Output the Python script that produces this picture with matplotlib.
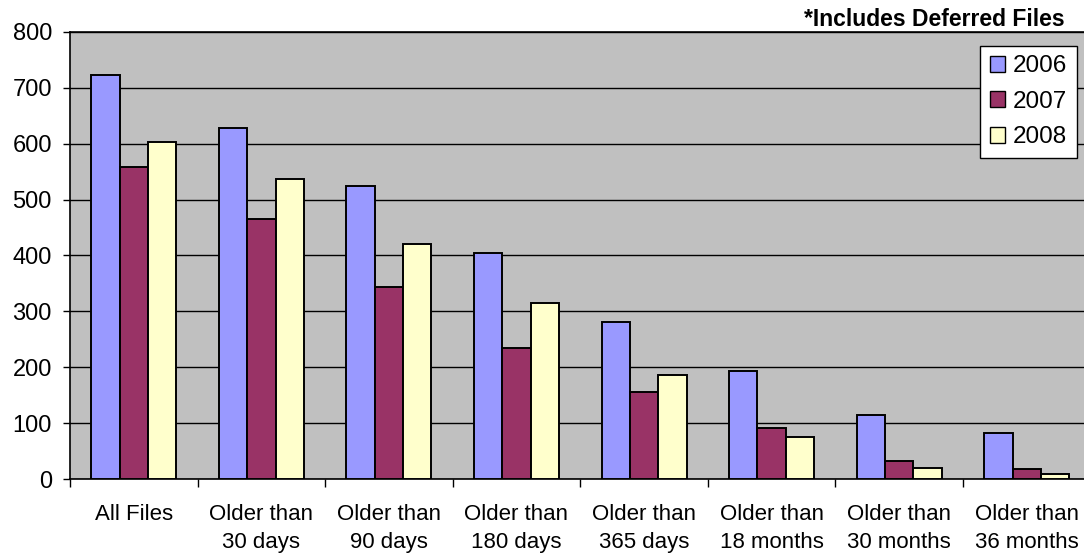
import numpy as np
import matplotlib
matplotlib.use('Agg')
import matplotlib.pyplot as plt
from matplotlib.patches import Patch

# Data
categories = ['All Files', 'Older than\n30 days', 'Older than\n90 days', 'Older than\n180 days',
              'Older than\n365 days', 'Older than\n18 months', 'Older than\n30 months', 'Older than\n36 months']
values_2006 = [723, 627, 525, 404, 282, 194, 115, 82]
values_2007 = [559, 465, 344, 235, 156, 92, 33, 18]
values_2008 = [602, 536, 421, 315, 186, 76, 21, 10]
series_labels = ['2006', '2007', '2008']
series_colors = ['#9999FF', '#993366', '#FFFFCC']

plt.rcParams['font.family'] = ['Liberation Sans', 'DejaVu Sans']

W, H = 1084, 554
fig = plt.figure(figsize=(W / 100, H / 100), dpi=100)
fig.patch.set_facecolor('white')

# axes box in pixel terms, right edge runs past the image like the original
left, right, top, bottom = 70, 1090.5, 31.7, 479.3
ax = fig.add_axes([left / W, (H - bottom) / H, (right - left) / W, (bottom - top) / H])
ax.set_facecolor('#C0C0C0')

x = np.arange(len(categories))
bar_w = 0.222
for i, vals in enumerate([values_2006, values_2007, values_2008]):
    ax.bar(x + (i - 1) * bar_w, vals, width=bar_w, color=series_colors[i],
           edgecolor='black', linewidth=1.4, zorder=3)

ax.set_xlim(-0.5, len(categories) - 0.5)
ax.set_ylim(0, 800)
ax.set_yticks(range(0, 801, 100))
ax.yaxis.grid(True, color='black', linewidth=1.0, zorder=0)
ax.set_axisbelow(True)

ax.set_xticks(x)
ax.set_xticklabels(categories, fontsize=16, linespacing=1.42)
ax.set_xticks(np.arange(len(categories) + 1) - 0.5, minor=True)
ax.tick_params(axis='x', which='major', length=0, pad=18)
ax.tick_params(axis='x', which='minor', length=6, width=1, color='black', direction='out')
ax.tick_params(axis='y', length=5, width=1, pad=8, labelsize=17, direction='out')

for side in ['left', 'bottom', 'top', 'right']:
    ax.spines[side].set_color('black')
    ax.spines[side].set_linewidth(1.2)

handles = [Patch(facecolor=c, edgecolor='black', linewidth=1.0) for c in series_colors]
leg = fig.legend(handles, series_labels, loc='upper right',
                 bbox_to_anchor=(1076.7 / W, (H - 45.7) / H),
                 fontsize=17.5, frameon=True, fancybox=False, edgecolor='black',
                 framealpha=1, handlelength=0.65, handleheight=0.65, handletextpad=0.3,
                 borderpad=0.4, labelspacing=0.55, borderaxespad=0)
leg.get_frame().set_linewidth(1.0)

fig.text(1065 / W, (H - 26.5) / H, '*Includes Deferred Files', fontsize=16.5,
         fontweight='bold', ha='right', va='baseline')

fig.savefig('out.png', dpi=100)
